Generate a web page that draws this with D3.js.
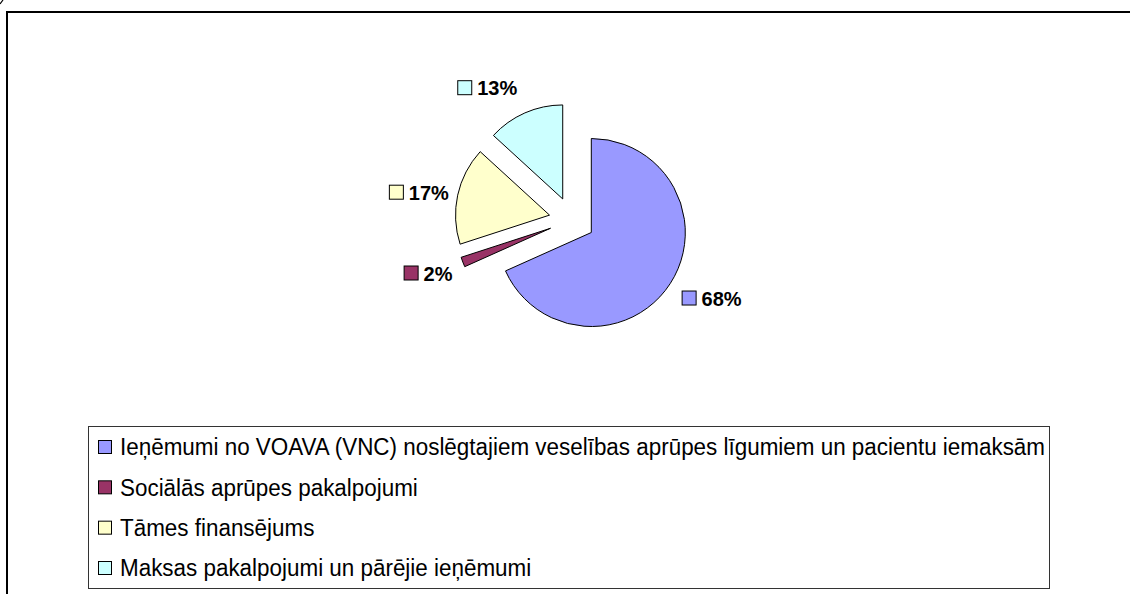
<!DOCTYPE html>
<html><head><meta charset="utf-8">
<script src="https://cdn.jsdelivr.net/npm/d3@7"></script>
<style>body{margin:0;background:#fff}svg{display:block}text{font-family:"Liberation Sans",Arial,sans-serif}</style>
</head><body>
<svg id="c" width="1130" height="594"></svg>
<script>
const categories = [
  "Ieņēmumi no VOAVA (VNC) noslēgtajiem veselības aprūpes līgumiem un pacientu iemaksām",
  "Sociālās aprūpes pakalpojumi",
  "Tāmes finansējums",
  "Maksas pakalpojumi un pārējie ieņēmumi"
];
const values = [68.3, 1.7, 16.8, 13.2];
const labels = ["68%", "2%", "17%", "13%"];
const colors = ["#9999FF", "#993366", "#FFFFCC", "#CCFFFF"];

const svg = d3.select("#c");
// outer chart border
svg.append("rect").attr("x", 7).attr("y", 12).attr("width", 1140).attr("height", 600)
  .attr("fill", "none").attr("stroke", "#000").attr("stroke-width", 2);
svg.append("path").attr("d", "M0,4L3,0").attr("stroke", "#000").attr("stroke-width", 1.2);

const cx = 572, cy = 220, r = 94, explode = 23;
const pie = d3.pie().sort(null).value(d => d)(values);
const arc = d3.arc().innerRadius(0).outerRadius(r);
const g = svg.append("g").attr("transform", `translate(${cx},${cy})`);

pie.forEach((p, i) => {
  const mid = (p.startAngle + p.endAngle) / 2;
  const dx = Math.sin(mid), dy = -Math.cos(mid);
  const ox = dx * explode, oy = dy * explode;
  g.append("path").attr("d", arc(p)).attr("transform", `translate(${ox},${oy})`)
    .attr("fill", colors[i]).attr("stroke", "#000").attr("stroke-width", 1);
});
pie.forEach((p, i) => {
  const mid = (p.startAngle + p.endAngle) / 2;
  const dx = Math.sin(mid), dy = -Math.cos(mid);
  const ox = dx * explode, oy = dy * explode;
  const R = r + 6 + 14 * Math.abs(dy);
  const px = ox + dx * R, py = oy + dy * R;
  const lg = g.append("g");
  lg.append("rect").attr("x", 0.5).attr("y", -7.5).attr("width", 14).attr("height", 14)
    .attr("fill", colors[i]).attr("stroke", "#000").attr("stroke-width", 1);
  const t = lg.append("text").attr("x", 20).attr("y", 0).attr("dy", "0.36em")
    .attr("font-size", 20).attr("font-weight", "bold").attr("fill", "#000").text(labels[i]);
  const w = 20 + t.node().getComputedTextLength();
  const h = 15;
  const f = Math.sign(dy) * Math.min(1, Math.max(0, (Math.abs(dy) - 0.2) / 0.15));
  const gx = dx >= 0 ? px : px - w;
  const gy = py + f * h / 2;
  lg.attr("transform", `translate(${gx},${gy})`);
});

// legend
const lx = 88, ly = 426, lw = 961, lh = 162;
svg.append("rect").attr("x", lx + 0.5).attr("y", ly + 0.5).attr("width", lw).attr("height", lh)
  .attr("fill", "#fff").attr("stroke", "#333").attr("stroke-width", 1);
const rowY = d3.scalePoint().domain(d3.range(categories.length)).range([ly + 21, ly + 142]);
const fs = 23.5, squeeze = 0.954;
categories.forEach((c, i) => {
  const y = rowY(i);
  svg.append("rect").attr("x", lx + 10.5).attr("y", y - 6.5).attr("width", 13).attr("height", 13)
    .attr("fill", colors[i]).attr("stroke", "#000").attr("stroke-width", 1);
  const t = svg.append("text").attr("x", lx + 32).attr("y", y).attr("dy", "0.36em")
    .attr("font-size", fs).attr("fill", "#000").text(c);
  const nw = t.node().getComputedTextLength();
  t.attr("textLength", nw * squeeze).attr("lengthAdjust", "spacingAndGlyphs");
});
</script>
</body></html>
